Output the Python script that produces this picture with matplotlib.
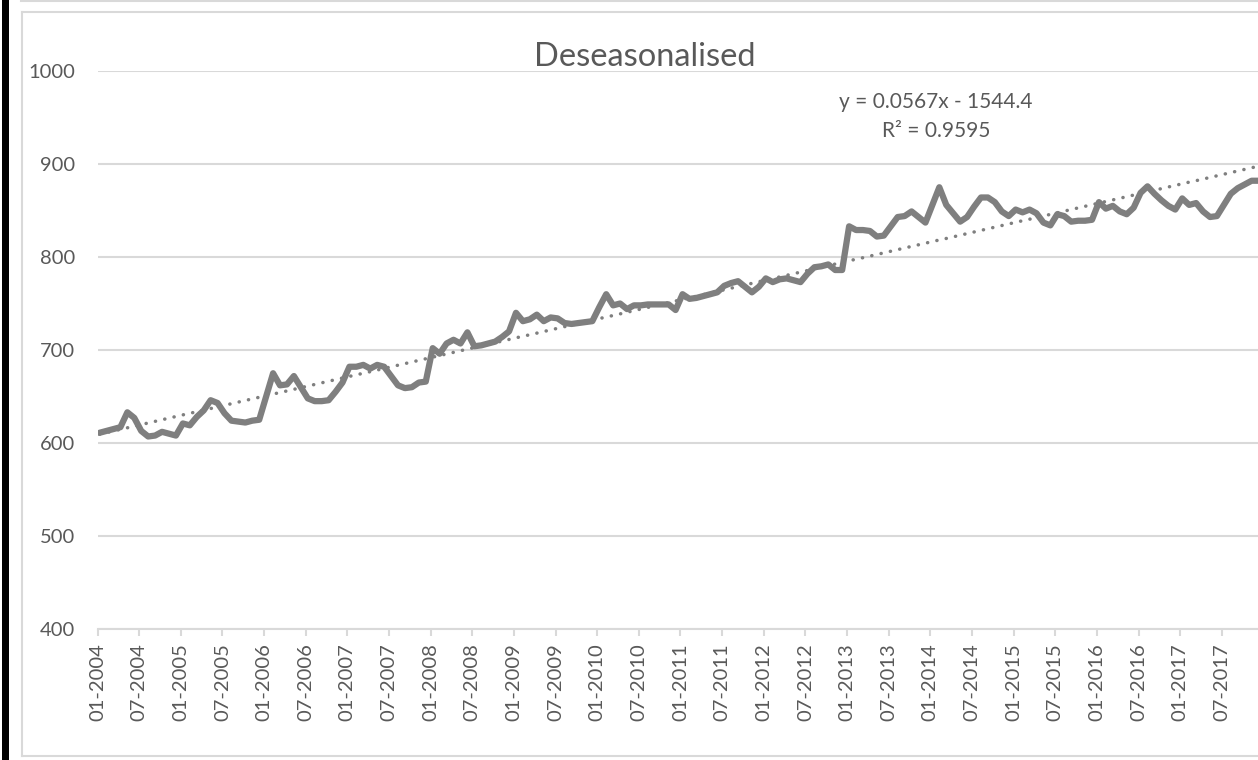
import matplotlib
matplotlib.use("Agg")
import matplotlib.pyplot as plt
from matplotlib.lines import Line2D
from matplotlib.patches import Rectangle
import numpy as np
import datetime

# ---------------- data ----------------
title = "Deseasonalised"
start_year = 2004
deseasonalised = [
    611, 613, 615, 617, 633, 627, 613, 607, 608, 612, 610, 608,   # 2004
    621, 619, 628, 635, 646, 643, 632, 624, 623, 622, 624, 625,   # 2005
    650, 675, 662, 663, 672, 660, 648, 645, 645, 646, 655, 665,   # 2006
    682, 682, 684, 680, 684, 682, 672, 662, 659, 660, 665, 666,   # 2007
    702, 696, 707, 711, 707, 719, 704, 705, 707, 709, 714, 720,   # 2008
    740, 731, 733, 738, 731, 735, 734, 729, 728, 729, 730, 731,   # 2009
    746, 760, 748, 750, 744, 748, 748, 749, 749, 749, 749, 743,   # 2010
    760, 755, 756, 758, 760, 762, 769, 772, 774, 768, 762, 768,   # 2011
    777, 773, 776, 777, 775, 773, 782, 789, 790, 792, 786, 786,   # 2012
    833, 829, 829, 828, 822, 823, 833, 843, 844, 849, 843, 837,   # 2013
    856, 875, 856, 847, 838, 843, 854, 864, 864, 859, 849, 844,   # 2014
    851, 848, 851, 847, 837, 834, 846, 844, 838, 839, 839, 840,   # 2015
    859, 852, 855, 849, 846, 853, 869, 876, 868, 861, 855, 851,   # 2016
    863, 856, 858, 849, 843, 844, 856, 868, 874, 878, 882, 882,   # 2017
]
trend_slope = 0.0567
trend_intercept = -1544.4
equation_text = "y = 0.0567x - 1544.4"
r2_text = "R² = 0.9595"
y_ticks = [400, 500, 600, 700, 800, 900, 1000]

n = len(deseasonalised)
month_labels = [f"{(m % 12) + 1:02d}-{start_year + m // 12}" for m in range(n)]
tick_idx = list(range(0, n, 6))
tick_labels = [month_labels[i] for i in tick_idx]

# Excel serial dates for trend line
serials = np.array([(datetime.date(start_year + m // 12, (m % 12) + 1, 1)
                     - datetime.date(1899, 12, 30)).days for m in range(n + 1)])
trend = trend_slope * serials + trend_intercept

# ---------------- style ----------------
W, H = 1258, 760
FONT = "Lato"
TXT = "#595959"
GRID = "#d9d9d9"
LINE = "#7f7f7f"

fig = plt.figure(figsize=(W / 100, H / 100), dpi=100)
fig.patch.set_facecolor("white")

def fx(px):
    return px / W

def fy(py):
    return 1 - py / H

# left black bar and frames
fig.add_artist(Rectangle((fx(2), 0), fx(7), 1, transform=fig.transFigure,
                         facecolor="black", edgecolor="none"))
fig.add_artist(Line2D([fx(21), 1], [fy(1), fy(1)], transform=fig.transFigure,
                      color=GRID, lw=1.5))
fig.add_artist(Line2D([fx(22), 1], [fy(12), fy(12)], transform=fig.transFigure,
                      color=GRID, lw=1.5))
fig.add_artist(Line2D([fx(22), fx(22)], [fy(12), fy(756)], transform=fig.transFigure,
                      color=GRID, lw=1.5))
fig.add_artist(Line2D([fx(22), 1], [fy(756), fy(756)], transform=fig.transFigure,
                      color=GRID, lw=1.5))

left_px, right_px, top_px, bot_px = 97.5, 1258, 71, 629
ax = fig.add_axes([fx(left_px), fy(bot_px), fx(right_px - left_px), (bot_px - top_px) / H])
ax.set_facecolor("none")

px_per_month = 6.94
ax.set_xlim(0, (right_px - left_px) / px_per_month)
ax.set_ylim(400, 1000)

x = np.arange(n) + 0.3
ax.plot(x, deseasonalised, color=LINE, lw=4.5, solid_joinstyle="round",
        solid_capstyle="round", zorder=3)
xt = np.arange(n + 1) + 0.3
ax.plot(xt, trend, color=LINE, lw=2.5, linestyle=(0, (0.05, 2.7)),
        dash_capstyle="round", zorder=4)

ax.set_yticks(y_ticks)
ax.set_yticklabels([str(v) for v in y_ticks])
ax.grid(axis="y", color=GRID, lw=1.5)
ax.set_axisbelow(True)
ax.tick_params(axis="y", length=0, pad=16, labelsize=14.5, labelcolor=TXT)

ax.set_xticks(tick_idx)
ax.set_xticklabels(tick_labels, rotation=90)
ax.tick_params(axis="x", length=5, width=1.5, color=GRID, pad=5,
               labelsize=14.5, labelcolor=TXT)

for s in ["top", "right", "left"]:
    ax.spines[s].set_visible(False)
ax.spines["bottom"].set_color(GRID)
ax.spines["bottom"].set_linewidth(1.5)

for lab in ax.get_xticklabels() + ax.get_yticklabels():
    lab.set_fontfamily(FONT)

fig.text(fx(645), fy(57), title, ha="center", va="center", fontsize=23.5,
         color=TXT, family=FONT)
fig.text(fx(936), fy(102), equation_text, ha="center", va="center", fontsize=15,
         color=TXT, family=FONT)
fig.text(fx(936), fy(131), r2_text, ha="center", va="center", fontsize=15,
         color=TXT, family=FONT)

fig.savefig("out.png", dpi=100)
